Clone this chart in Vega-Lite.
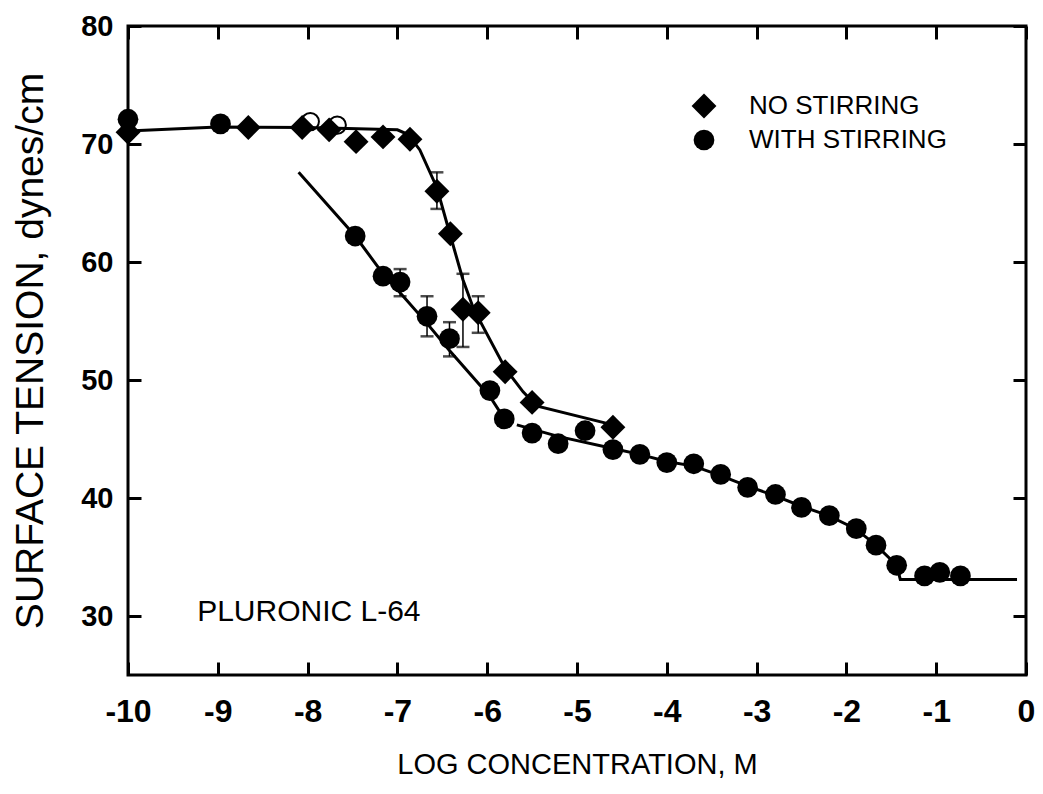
{
  "$schema": "https://vega.github.io/schema/vega-lite/v6.json",
  "width": 898,
  "height": 649,
  "autosize": {"type": "none"},
  "padding": {"left": 128, "top": 26, "right": 17, "bottom": 119},
  "background": "white",
  "config": {
    "view": {"stroke": "black", "strokeWidth": 3},
    "font": "Liberation Sans",
    "axis": {"grid": false, "domain": false, "tickColor": "black", "tickWidth": 3, "tickSize": 13, "labelColor": "black", "titleColor": "black"}
  },
  "datasets": {
    "points": [
      {"x": -10, "y": 71.0, "series": "NO STIRRING"},
      {"x": -8.66, "y": 71.4, "series": "NO STIRRING"},
      {"x": -8.06, "y": 71.4, "series": "NO STIRRING"},
      {"x": -7.76, "y": 71.2, "series": "NO STIRRING"},
      {"x": -7.46, "y": 70.2, "series": "NO STIRRING"},
      {"x": -7.16, "y": 70.6, "series": "NO STIRRING"},
      {"x": -6.86, "y": 70.4, "series": "NO STIRRING"},
      {"x": -6.56, "y": 66.0, "series": "NO STIRRING"},
      {"x": -6.41, "y": 62.4, "series": "NO STIRRING"},
      {"x": -6.27, "y": 56.0, "series": "NO STIRRING"},
      {"x": -6.10, "y": 55.7, "series": "NO STIRRING"},
      {"x": -5.80, "y": 50.7, "series": "NO STIRRING"},
      {"x": -5.50, "y": 48.1, "series": "NO STIRRING"},
      {"x": -4.60, "y": 46.0, "series": "NO STIRRING"},
      {"x": -10, "y": 72.1, "series": "WITH STIRRING"},
      {"x": -8.97, "y": 71.7, "series": "WITH STIRRING"},
      {"x": -7.47, "y": 62.2, "series": "WITH STIRRING"},
      {"x": -7.16, "y": 58.8, "series": "WITH STIRRING"},
      {"x": -6.97, "y": 58.3, "series": "WITH STIRRING"},
      {"x": -6.67, "y": 55.4, "series": "WITH STIRRING"},
      {"x": -6.42, "y": 53.5, "series": "WITH STIRRING"},
      {"x": -5.97, "y": 49.1, "series": "WITH STIRRING"},
      {"x": -5.81, "y": 46.7, "series": "WITH STIRRING"},
      {"x": -5.50, "y": 45.5, "series": "WITH STIRRING"},
      {"x": -5.21, "y": 44.6, "series": "WITH STIRRING"},
      {"x": -4.91, "y": 45.7, "series": "WITH STIRRING"},
      {"x": -4.60, "y": 44.1, "series": "WITH STIRRING"},
      {"x": -4.30, "y": 43.7, "series": "WITH STIRRING"},
      {"x": -4.00, "y": 43.0, "series": "WITH STIRRING"},
      {"x": -3.70, "y": 42.9, "series": "WITH STIRRING"},
      {"x": -3.40, "y": 42.0, "series": "WITH STIRRING"},
      {"x": -3.10, "y": 40.9, "series": "WITH STIRRING"},
      {"x": -2.79, "y": 40.3, "series": "WITH STIRRING"},
      {"x": -2.50, "y": 39.2, "series": "WITH STIRRING"},
      {"x": -2.19, "y": 38.5, "series": "WITH STIRRING"},
      {"x": -1.89, "y": 37.4, "series": "WITH STIRRING"},
      {"x": -1.67, "y": 36.0, "series": "WITH STIRRING"},
      {"x": -1.44, "y": 34.3, "series": "WITH STIRRING"},
      {"x": -1.13, "y": 33.4, "series": "WITH STIRRING"},
      {"x": -0.96, "y": 33.7, "series": "WITH STIRRING"},
      {"x": -0.73, "y": 33.4, "series": "WITH STIRRING"}
    ],
    "open": [
      {"x": -7.97, "y": 71.9},
      {"x": -7.67, "y": 71.6}
    ],
    "errors": [
      {"x": -6.56, "lo": 64.5, "hi": 67.6},
      {"x": -6.27, "lo": 52.8, "hi": 59.0},
      {"x": -6.10, "lo": 54.0, "hi": 57.1},
      {"x": -6.97, "lo": 57.1, "hi": 59.4},
      {"x": -6.67, "lo": 53.7, "hi": 57.1},
      {"x": -6.42, "lo": 52.0, "hi": 54.9}
    ],
    "fits": [
      {"x": -10, "y": 71.1, "curve": "A"},
      {"x": -9, "y": 71.45, "curve": "A"},
      {"x": -8, "y": 71.4, "curve": "A"},
      {"x": -7.0, "y": 71.2, "curve": "A"},
      {"x": -6.88, "y": 70.8, "curve": "A"},
      {"x": -6.75, "y": 69.5, "curve": "A"},
      {"x": -6.56, "y": 66.3, "curve": "A"},
      {"x": -6.42, "y": 62.5, "curve": "A"},
      {"x": -6.27, "y": 58.5, "curve": "A"},
      {"x": -6.15, "y": 56.0, "curve": "A"},
      {"x": -5.8, "y": 51.0, "curve": "A"},
      {"x": -5.6, "y": 49.0, "curve": "A"},
      {"x": -5.45, "y": 47.8, "curve": "A"},
      {"x": -4.6, "y": 46.2, "curve": "A"},
      {"x": -8.1, "y": 67.6, "curve": "B1"},
      {"x": -7.47, "y": 62.2, "curve": "B1"},
      {"x": -7.16, "y": 59.0, "curve": "B1"},
      {"x": -6.97, "y": 57.4, "curve": "B1"},
      {"x": -6.67, "y": 54.8, "curve": "B1"},
      {"x": -6.42, "y": 52.5, "curve": "B1"},
      {"x": -5.97, "y": 48.6, "curve": "B1"},
      {"x": -5.8, "y": 46.6, "curve": "B1"},
      {"x": -5.67, "y": 46.2, "curve": "B2"},
      {"x": -5.2, "y": 45.2, "curve": "B2"},
      {"x": -4.6, "y": 44.2, "curve": "B2"},
      {"x": -4.3, "y": 43.7, "curve": "B2"},
      {"x": -4.0, "y": 43.1, "curve": "B2"},
      {"x": -3.7, "y": 42.7, "curve": "B2"},
      {"x": -3.4, "y": 41.9, "curve": "B2"},
      {"x": -3.1, "y": 41.0, "curve": "B2"},
      {"x": -2.8, "y": 40.2, "curve": "B2"},
      {"x": -2.5, "y": 39.3, "curve": "B2"},
      {"x": -2.2, "y": 38.5, "curve": "B2"},
      {"x": -1.9, "y": 37.4, "curve": "B2"},
      {"x": -1.67, "y": 36.0, "curve": "B2"},
      {"x": -1.44, "y": 34.3, "curve": "B2"},
      {"x": -1.4, "y": 33.1, "curve": "B2"},
      {"x": -0.1, "y": 33.1, "curve": "B2"}
    ],
    "labels": [
      {"x": -9.23, "y": 30.3, "text": "PLURONIC L-64"}
    ]
  },
  "resolve": {"axis": {"x": "independent", "y": "independent"}},
  "layer": [
    {
      "data": {"name": "fits"},
      "mark": {"type": "line", "color": "black", "strokeWidth": 3},
      "encoding": {
        "x": {"field": "x", "type": "quantitative", "scale": {"domain": [-10, 0], "nice": false, "zero": false},
          "axis": {"orient": "bottom", "values": [-10, -9, -8, -7, -6, -5, -4, -3, -2, -1, 0], "labelExpr": "toString(datum.value)", "ticks": false,
            "labelFontSize": 32, "labelFontWeight": "bold", "labelPadding": 21, "labelFlush": false,
            "title": "LOG CONCENTRATION, M", "titleFont": "Liberation Sans", "titleFontSize": 29, "titleFontWeight": "normal", "titlePadding": 23}},
        "y": {"field": "y", "type": "quantitative", "scale": {"domain": [25, 80], "nice": false, "zero": false},
          "axis": {"orient": "left", "values": [30, 40, 50, 60, 70, 80], "ticks": false, "labelFontSize": 29, "labelFontWeight": "bold", "labelPadding": 15, "labelFlush": false,
            "title": "SURFACE TENSION, dynes/cm", "titleFontSize": 39, "titleFontWeight": "normal", "titlePadding": 30}},
        "detail": {"field": "curve"}
      }
    },
    {
      "data": {"name": "errors"},
      "mark": {"type": "rule", "color": "black", "strokeWidth": 1.5},
      "encoding": {
        "x": {"field": "x", "type": "quantitative",
          "axis": {"orient": "top", "offset": -649, "values": [-10, -9, -8, -7, -6, -5, -4, -3, -2, -1, 0], "labels": false, "title": null}},
        "y": {"field": "lo", "type": "quantitative",
          "axis": {"orient": "right", "offset": -898, "values": [30, 40, 50, 60, 70, 80], "labels": false, "title": null}},
        "y2": {"field": "hi"}
      }
    },
    {
      "data": {"name": "errors"},
      "mark": {"type": "tick", "color": "black", "orient": "horizontal", "size": 13, "thickness": 2.5},
      "encoding": {
        "x": {"field": "x", "type": "quantitative",
          "axis": {"orient": "bottom", "offset": -649, "values": [-10, -9, -8, -7, -6, -5, -4, -3, -2, -1, 0], "labels": false, "title": null}},
        "y": {"field": "lo", "type": "quantitative",
          "axis": {"orient": "left", "offset": -898, "values": [30, 40, 50, 60, 70, 80], "labels": false, "title": null}}
      }
    },
    {
      "data": {"name": "errors"},
      "mark": {"type": "tick", "color": "black", "orient": "horizontal", "size": 13, "thickness": 2.5},
      "encoding": {
        "x": {"field": "x", "type": "quantitative", "axis": null},
        "y": {"field": "hi", "type": "quantitative", "axis": null}
      }
    },
    {
      "data": {"name": "open"},
      "mark": {"type": "point", "shape": "circle", "filled": false, "stroke": "black", "strokeWidth": 2, "size": 300, "opacity": 1},
      "encoding": {
        "x": {"field": "x", "type": "quantitative", "axis": null},
        "y": {"field": "y", "type": "quantitative", "axis": null}
      }
    },
    {
      "data": {"name": "points"},
      "mark": {"type": "point", "filled": true, "color": "black", "opacity": 1},
      "encoding": {
        "x": {"field": "x", "type": "quantitative", "axis": null},
        "y": {"field": "y", "type": "quantitative", "axis": null},
        "shape": {"field": "series", "type": "nominal",
          "scale": {"domain": ["NO STIRRING", "WITH STIRRING"], "range": ["diamond", "circle"]},
          "legend": {"orient": "none", "legendX": 563, "legendY": 67, "title": null, "labelFontSize": 26, "labelFont": "Liberation Sans", "labelColor": "black", "labelLimit": 0,
            "symbolFillColor": "black", "symbolStrokeWidth": 0, "labelOffset": 32, "rowPadding": 8, "padding": 0}},
        "size": {"field": "series", "type": "nominal",
          "scale": {"domain": ["NO STIRRING", "WITH STIRRING"], "range": [620, 430]},
          "legend": {"orient": "none", "legendX": 563, "legendY": 67, "title": null, "labelFontSize": 26, "labelFont": "Liberation Sans", "labelColor": "black", "labelLimit": 0,
            "symbolFillColor": "black", "symbolStrokeWidth": 0, "labelOffset": 32, "rowPadding": 8, "padding": 0}}
      }
    },
    {
      "data": {"name": "labels"},
      "mark": {"type": "text", "align": "left", "baseline": "middle", "fontSize": 30, "font": "Liberation Sans", "color": "black"},
      "encoding": {
        "x": {"field": "x", "type": "quantitative", "axis": null},
        "y": {"field": "y", "type": "quantitative", "axis": null},
        "text": {"field": "text"}
      }
    }
  ]
}
